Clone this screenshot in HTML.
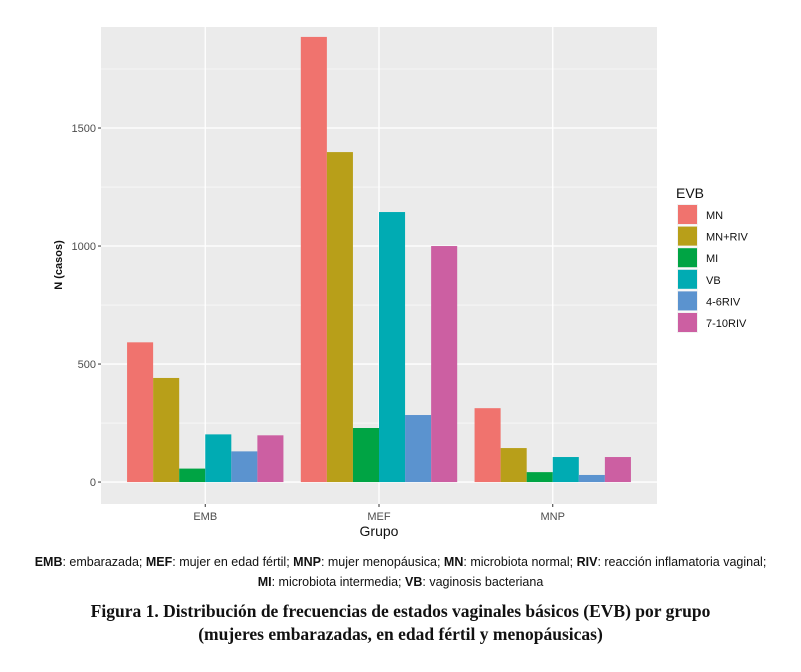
<!DOCTYPE html>
<html><head><meta charset="utf-8"><style>
body{margin:0;background:#fff;width:801px;height:672px;overflow:hidden;font-family:"Liberation Sans",sans-serif}
.cap{position:absolute;left:0;width:801px;text-align:center;font-size:12.5px;color:#111}
.fig{position:absolute;left:0;width:801px;text-align:center;font-family:"Liberation Serif",serif;font-weight:bold;font-size:17.5px;color:#111}
</style></head><body>
<svg id="chart" width="801" height="550" style="position:absolute;left:0;top:0" font-family="Liberation Sans, sans-serif"></svg>
<div class="cap" style="top:555px"><b>EMB</b>: embarazada; <b>MEF</b>: mujer en edad fértil; <b>MNP</b>: mujer menopáusica; <b>MN</b>: microbiota normal; <b>RIV</b>: reacción inflamatoria vaginal;</div>
<div class="cap" style="top:575px"><b>MI</b>: microbiota intermedia; <b>VB</b>: vaginosis bacteriana</div>
<div class="fig" style="top:601px">Figura 1. Distribución de frecuencias de estados vaginales básicos (EVB) por grupo</div>
<div class="fig" style="top:624px">(mujeres embarazadas, en edad fértil y menopáusicas)</div>
<script>
const categories=["EMB","MEF","MNP"];
const seriesNames=["MN","MN+RIV","MI","VB","4-6RIV","7-10RIV"];
const seriesColors=["#F0736E","#B89F19","#00A444","#00ABB3","#5B93CF","#CC5FA2"];
const valsMN=[592,1886,313];
const valsMNRIV=[441,1398,144];
const valsMI=[57,229,42];
const valsVB=[202,1144,106];
const vals46=[130,284,30];
const vals710=[198,1000,106];
const yTicks=[0,500,1000,1500];
const yMinor=[250,750,1250,1750];
const series=[valsMN,valsMNRIV,valsMI,valsVB,vals46,vals710];
const svg=document.getElementById('chart');
const NS="http://www.w3.org/2000/svg";
const P={l:101,r:657,t:27,b:504};
const yMin=-93,yMax=1928;
function y(v){return P.b-(v-yMin)/(yMax-yMin)*(P.b-P.t);}
const step=(P.r-P.l)/(categories.length+0.2);
function x(i){return P.l+step*(i+0.6);}
function mk(tag,a,parent){const e=document.createElementNS(NS,tag);for(const k in a)e.setAttribute(k,a[k]);(parent||svg).appendChild(e);return e;}
let e=mk('rect',{x:P.l,y:P.t,width:P.r-P.l,height:P.b-P.t,fill:'#EBEBEB'});


yMinor.forEach(v=>{let l=mk('line',{x1:P.l,x2:P.r,y1:y(v),y2:y(v),stroke:'#fff','stroke-width':0.6});

});
yTicks.forEach(v=>{let l=mk('line',{x1:P.l,x2:P.r,y1:y(v),y2:y(v),stroke:'#fff','stroke-width':1.3});


let t=mk('line',{x1:P.l-3,x2:P.l,y1:y(v),y2:y(v),stroke:'#333'});


let tx=mk('text',{x:P.l-5,y:y(v)+4,'text-anchor':'end','font-size':11,fill:'#4D4D4D'});tx.textContent=v;

});
categories.forEach((c,i)=>{let l=mk('line',{x1:x(i),x2:x(i),y1:P.t,y2:P.b,stroke:'#fff','stroke-width':1.3});


let t=mk('line',{x1:x(i),x2:x(i),y1:P.b,y2:P.b+3,stroke:'#333'});


let tx=mk('text',{x:x(i),y:P.b+16,'text-anchor':'middle','font-size':11,fill:'#4D4D4D'});tx.textContent=c;

});
const bw=step*0.9/seriesNames.length;
series.forEach((s,j)=>s.forEach((v,i)=>{const bx=x(i)-step*0.45+j*bw;
let r=mk('rect',{x:bx,y:y(v),width:bw,height:y(0)-y(v),fill:seriesColors[j]});

}));
let xt=mk('text',{x:x(1),y:536,'text-anchor':'middle','font-size':14,fill:'#111'});xt.textContent='Grupo';


let yt=mk('text',{x:62,y:265,'text-anchor':'middle','font-size':11,'font-weight':'bold',fill:'#111',transform:'rotate(-90 62 265)'});yt.textContent='N (casos)';


let lt=mk('text',{x:676,y:198,'font-size':14,fill:'#111'});lt.textContent='EVB';


seriesNames.forEach((n,j)=>{const ly=204+j*21.6;
let g=mk('g',{});


mk('rect',{x:677,y:ly,width:21,height:21,fill:'#F2F2F2'},g);
mk('rect',{x:678,y:ly+1,width:19,height:19,fill:seriesColors[j]},g);
let t=mk('text',{x:706,y:ly+15,'font-size':11,fill:'#111'},g);t.textContent=n;});
</script>
</body></html>
